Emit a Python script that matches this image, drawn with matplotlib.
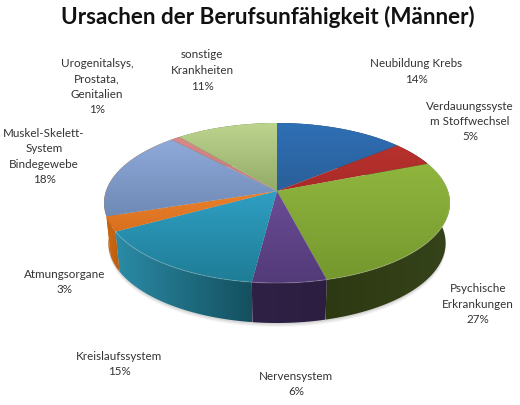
import numpy as np
import matplotlib
matplotlib.use("Agg")
import matplotlib.pyplot as plt
from matplotlib.colors import LinearSegmentedColormap
from matplotlib.patches import PathPatch, Polygon
from matplotlib.path import Path

plt.rcParams["font.family"] = ["Lato", "DejaVu Sans"]

# clockwise from 12 o'clock
names = [
    "Neubildung Krebs",
    "Verdauungssyste\nm Stoffwechsel",
    "Psychische\nErkrankungen",
    "Nervensystem",
    "Kreislaufssystem",
    "Atmungsorgane",
    "Muskel-Skelett-\nSystem\nBindegewebe",
    "Urogenitalsys,\nProstata,\nGenitalien",
    "sonstige\nKrankheiten",
]
values = [14, 5, 27, 6, 15, 3, 18, 1, 11]

top_colors = [
    ("#2f6fb5", "#2a5f99"),
    ("#b8322e", "#a82a28"),
    ("#90b53e", "#75982e"),
    ("#6a4c96", "#533a78"),
    ("#2f9fc4", "#1f7d96"),
    ("#e8802c", "#d8701e"),
    ("#8fa9da", "#6f8ab5"),
    ("#d88a88", "#c07a78"),
    ("#bcd48e", "#93ab68"),
]
wall_colors = [
    ("#1d3c66", "#1d3c66"),
    ("#5a1a18", "#5a1a18"),
    ("#2d3912", "#35431a"),
    ("#2f2146", "#2b1e40"),
    ("#2b8ba6", "#14505f"),
    ("#d06a14", "#b85c10"),
    ("#c06412", "#c06412"),
    ("#805050", "#805050"),
    ("#66764a", "#66764a"),
]
label_pos = [
    (416, 71.5), (470, 121.5), (478, 304), (296, 384), (119, 364),
    (65, 282), (44, 156.5), (97, 86.5), (202, 70.5),
]

# perspective circle -> picture, lower rim is a bit narrower
CX, CY = 277, 191
A, B, K = 171, 78.2, 0.15
LOW_CY, LOW_SCALE = 231, 0.975


def project(theta, cy=CY, scale=1.0):
    u, v = np.sin(theta), np.cos(theta)
    w = 1 + K * v
    return CX + scale * A * u / w, cy - B * v / w


def gradient_fill(ax, verts, c1, c2, horizontal=False, zorder=2):
    cmap = LinearSegmentedColormap.from_list("g", [c1, c2])
    x0, y0 = verts.min(axis=0)
    x1, y1 = verts.max(axis=0)
    grad = np.linspace(0, 1, 64)
    grad = grad[None, :] if horizontal else grad[:, None]
    im = ax.imshow(grad, cmap=cmap, extent=(x0, x1, y1, y0), aspect="auto",
                   origin="upper", zorder=zorder, interpolation="bilinear")
    patch = PathPatch(Path(np.vstack([verts, verts[:1]])), transform=ax.transData)
    im.set_clip_path(patch)


fig = plt.figure(figsize=(5.2, 4.05), dpi=100)
ax = fig.add_axes([0, 0, 1, 1])

edges = np.cumsum([0] + values) / sum(values) * 2 * np.pi

# soft shadow under the pie
full = np.linspace(0, 2 * np.pi, 200)
sx, sy = project(full, LOW_CY, LOW_SCALE)
for off, alpha in [(4, 0.04), (3, 0.05), (1.5, 0.08)]:
    ax.add_patch(Polygon(np.c_[sx, sy + off], color="#000000", alpha=alpha, lw=0, zorder=1))

for i in range(len(values)):
    t = np.linspace(edges[i], edges[i + 1], 60)
    x, y = project(t)
    lx, ly = project(t, LOW_CY, LOW_SCALE)
    wall = np.vstack([np.c_[x, y], np.c_[lx, ly][::-1]])
    gradient_fill(ax, wall, *wall_colors[i], horizontal=True, zorder=2)

for i in range(len(values)):
    t = np.linspace(edges[i], edges[i + 1], 60)
    x, y = project(t)
    top = np.vstack([[CX, CY], np.c_[x, y]])
    gradient_fill(ax, top, *top_colors[i], zorder=3)

# faint light rim along the front edge
t = np.linspace(edges[2], edges[5], 120)
rx, ry = project(t)
ax.plot(rx, ry, color="white", alpha=0.18, lw=0.8, zorder=4)

for name, val, (lx, ly) in zip(names, values, label_pos):
    ax.text(lx, ly, f"{name}\n{val}%", ha="center", va="center", fontsize=8.4,
            color="#333333", linespacing=1.5, zorder=5)

ax.text(268, 17, "Ursachen der Berufsunfähigkeit (Männer)", ha="center", va="center",
        fontsize=16.2, fontweight="bold", color="#111111", zorder=5)

ax.set_xlim(0, 520)
ax.set_ylim(405, 0)
ax.axis("off")
fig.savefig("out.png", dpi=100, facecolor="white")
